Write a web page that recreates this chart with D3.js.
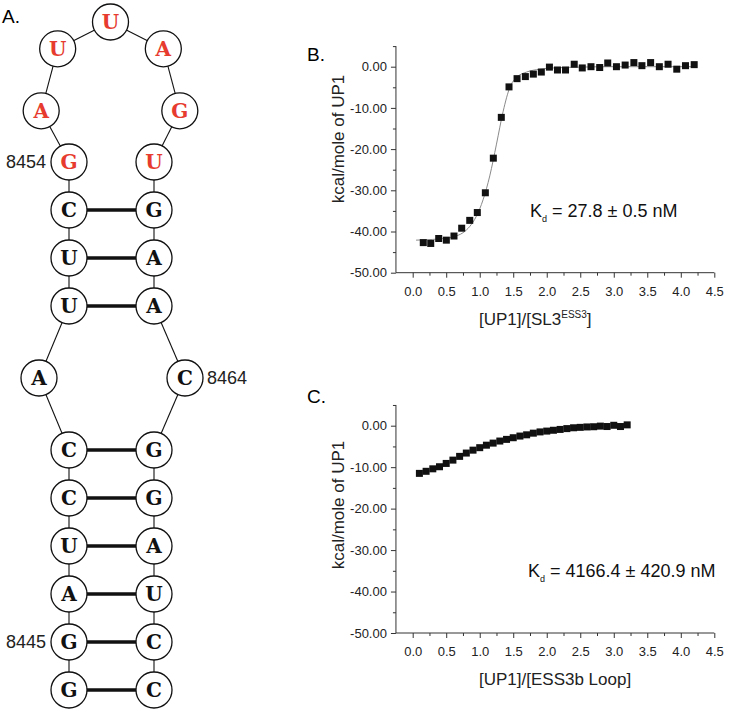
<!DOCTYPE html>
<html>
<head>
<meta charset="UTF-8">
<script src="https://d3js.org/d3.v7.min.js"></script>
<style>
  body { margin: 0; background: #fff; }
  text { font-family: "Liberation Sans", Arial, sans-serif; }
</style>
</head>
<body>
<svg width="730" height="709"></svg>
<script>
// ---- panel A: stem loop, numbered from 8444
var seqStart = 8444;
var sequence = ["G","G","A","U","C","C","A","U","U","C","G",
                "A","U","U","A","G","U",
                "G","A","A","C","G","G","A","U","C","C"];
var redFrom = 8454, redTo = 8460;
var pairs = [[8444,8470],[8445,8469],[8446,8468],[8447,8467],[8448,8466],
             [8449,8465],[8451,8463],[8452,8462],[8453,8461]];
var numbered = [8445, 8454, 8464];

// ---- panel B: [UP1]/[SL3 ESS3]
var bX = [0.158,0.269,0.388,0.502,0.616,0.731,0.851,0.964,1.084,1.203,1.322,1.437,1.557,1.681,1.800,1.919,
          2.04,2.16,2.28,2.41,2.53,2.66,2.79,2.91,3.04,3.17,3.30,3.42,3.55,3.68,3.81,3.94,4.07,4.20];
var bY = [-42.7,-42.9,-41.7,-42.1,-41.1,-39.2,-37.3,-35.4,-30.6,-22.2,-12.3,-4.9,-2.9,-2.4,-1.8,-1.3,
          -0.1,-0.8,-0.8,0.6,-0.3,0.0,-0.2,0.9,0.0,0.4,1.0,0.25,1.0,0.0,0.6,-0.6,0.25,0.5];
// fitted curve
var fitX = [0.05,0.2,0.4,0.6,0.75,0.85,0.95,1.05,1.15,1.25,1.35,1.45,1.55,1.7,1.9,2.1,2.5,3.0,3.5,4.2];
var fitY = [-42.1,-42.0,-41.8,-41.3,-40.3,-38.8,-36.3,-32.3,-26.5,-18.8,-10.8,-5.0,-2.6,-1.3,-0.6,-0.3,-0.1,0,0,0];

// ---- panel C: [UP1]/[ESS3b Loop]
var cX = [0.1,0.2,0.3,0.4,0.5,0.6,0.7,0.8,0.9,1.0,1.1,1.2,1.3,1.4,1.5,1.6,
          1.7,1.8,1.9,2.0,2.1,2.2,2.3,2.4,2.5,2.6,2.7,2.8,2.9,3.0,3.1,3.2];
var cY = [-11.5,-11.0,-10.4,-9.9,-9.1,-8.3,-7.4,-6.6,-5.9,-5.3,-4.7,-4.2,-3.7,-3.3,-2.9,-2.5,
          -2.2,-1.8,-1.5,-1.3,-1.1,-0.9,-0.7,-0.5,-0.4,-0.3,-0.25,-0.1,-0.2,0.1,-0.2,0.2];

var xMajor = [0,0.5,1,1.5,2,2.5,3,3.5,4,4.5];
var xMinor = [0.25,0.75,1.25,1.75,2.25,2.75,3.25,3.75,4.25];
var yMajor = [0,-10,-20,-30,-40,-50];
var yMinor = [5,-5,-15,-25,-35,-45];

var svg = d3.select("svg");
var red = "#e63b2e";

// ===================== panel A =====================
svg.append("text").attr("x", 2).attr("y", 23).attr("font-size", 19).text("A.");

var rowY = d3.scaleLinear().domain([0, 11]).range([690, 162]);
var colL = 69, colR = 154;

function pos(i) {
  if (i <= 5) return [colL, rowY(i)];
  if (i == 6) return [colL - 30, rowY(6.5)];
  if (i <= 9) return [colL, rowY(i + 1)];
  if (i == 10) return [colL, rowY(11)];
  if (i <= 15) {
    var a = (-98 + 49 * (i - 11)) * Math.PI / 180;
    return [110.5 + 70 * Math.sin(a), 100 - 78 * Math.cos(a)];
  }
  if (i == 16) return [colR, rowY(11)];
  if (i <= 19) return [colR, rowY(27 - i)];
  if (i == 20) return [colR + 31, rowY(6.5)];
  return [colR, rowY(26 - i)];
}

var nts = sequence.map(function(b, i) {
  var p = pos(i);
  return {base: b, num: seqStart + i, x: p[0], y: p[1]};
});

var ga = svg.append("g");
// backbone
ga.selectAll(".bb").data(d3.pairs(nts)).enter().append("line")
  .attr("x1", function(d){ return d[0].x; }).attr("y1", function(d){ return d[0].y; })
  .attr("x2", function(d){ return d[1].x; }).attr("y2", function(d){ return d[1].y; })
  .attr("stroke", "#111").attr("stroke-width", 1.1);
// base pairs
ga.selectAll(".bp").data(pairs).enter().append("line")
  .attr("x1", function(d){ return nts[d[0] - seqStart].x; })
  .attr("y1", function(d){ return nts[d[0] - seqStart].y; })
  .attr("x2", function(d){ return nts[d[1] - seqStart].x; })
  .attr("y2", function(d){ return nts[d[1] - seqStart].y; })
  .attr("stroke", "#111").attr("stroke-width", 3.6);

var node = ga.selectAll(".nt").data(nts).enter().append("g")
  .attr("transform", function(d){ return "translate(" + d.x + "," + d.y + ")"; });
node.append("circle").attr("r", 18).attr("fill", "#fff")
  .attr("stroke", "#111").attr("stroke-width", 1.3);
node.append("text")
  .attr("text-anchor", "middle").attr("dy", "0.36em")
  .style("font-family", "'DejaVu Serif', serif").style("font-weight", "bold").attr("font-size", 20)
  .attr("fill", function(d){ return d.num >= redFrom && d.num <= redTo ? red : "#111"; })
  .text(function(d){ return d.base; });

ga.selectAll(".num").data(numbered).enter().append("text")
  .attr("font-size", 18).attr("fill", "#222").attr("dy", "0.36em")
  .attr("text-anchor", function(n){ return nts[n - seqStart].x > 120 ? "start" : "end"; })
  .attr("x", function(n){ var d = nts[n - seqStart]; return d.x > 120 ? d.x + 22 : d.x - 23; })
  .attr("y", function(n){ return nts[n - seqStart].y; })
  .text(function(d){ return d; });

// ===================== panels B, C =====================
function panel(o) {
  var x = d3.scaleLinear().domain([0, 4.5]).range([412.7, 714.3]);
  var y = d3.scaleLinear().domain([0, -50]).range([o.zero, o.bottom]);
  var g = svg.append("g");

  svg.append("text").attr("x", 307).attr("y", o.letterY).attr("font-size", 19).text(o.letter);

  var xa = g.append("g").attr("transform", "translate(0," + o.bottom + ")");
  xa.append("line").attr("x1", x(-0.25)).attr("x2", x(4.5))
    .attr("stroke", "#333").attr("stroke-width", 1);
  xa.call(d3.axisBottom(x).tickValues(xMajor).tickSize(5).tickPadding(9)
      .tickFormat(function(d){ return d.toFixed(1); }));
  xa.call(function(s){ s.select(".domain").remove(); });
  var xm = g.append("g").attr("transform", "translate(0," + o.bottom + ")")
    .call(d3.axisBottom(x).tickValues(xMinor).tickSize(3).tickFormat(""));
  xm.select(".domain").remove();

  var ya = g.append("g").attr("transform", "translate(" + x(-0.25) + ",0)");
  ya.append("line").attr("y1", y(5)).attr("y2", y(-50))
    .attr("stroke", "#333").attr("stroke-width", 1);
  ya.call(d3.axisLeft(y).tickValues(yMajor).tickSize(5).tickPadding(4)
      .tickFormat(function(d){ return d.toFixed(2); }));
  ya.select(".domain").remove();
  var ym = g.append("g").attr("transform", "translate(" + x(-0.25) + ",0)")
    .call(d3.axisLeft(y).tickValues(yMinor).tickSize(3).tickFormat(""));
  ym.select(".domain").remove();

  g.selectAll(".tick line").attr("stroke", "#333");
  g.selectAll(".tick text").attr("font-size", 13).attr("fill", "#222")
    .style("font-family", "'Liberation Sans', Arial, sans-serif");

  // y label
  g.append("text").attr("transform", "translate(344," + o.yLabelY + ") rotate(-90)")
    .attr("text-anchor", "middle").attr("font-size", 17).attr("fill", "#222")
    .text("kcal/mole of UP1");

  // x label
  var xl = g.append("text").attr("x", 479).attr("y", o.bottom + 52)
    .attr("font-size", 17).attr("fill", "#222");
  xl.append("tspan").text(o.xLabel[0]);
  if (o.xLabel[1]) {
    xl.append("tspan").attr("font-size", 10).attr("dy", -7).text(o.xLabel[1]);
    xl.append("tspan").attr("dy", 7).text(o.xLabel[2]);
  }

  // fit
  if (o.fitX) {
    var line = d3.line().x(function(d){ return x(d[0]); }).y(function(d){ return y(d[1]); })
      .curve(d3.curveMonotoneX);
    g.append("path").datum(d3.zip(o.fitX, o.fitY)).attr("d", line)
      .attr("fill", "none").attr("stroke", "#8a8a8a").attr("stroke-width", 1);
  }

  // points
  var s = o.size;
  g.selectAll(".pt").data(d3.zip(o.xs, o.ys)).enter().append("rect")
    .attr("x", function(d){ return x(d[0]) - s / 2; })
    .attr("y", function(d){ return y(d[1]) - s / 2; })
    .attr("width", s).attr("height", s).attr("fill", "#111");

  // Kd
  var kt = g.append("text").attr("x", o.kdX).attr("y", o.kdY).attr("font-size", 18).attr("fill", "#111");
  kt.append("tspan").text("K");
  kt.append("tspan").attr("font-size", 9).attr("dy", 5).text("d");
  kt.append("tspan").attr("dy", -5).text(" = " + o.kd);
}

panel({letter: "B.", letterY: 61, zero: 66.7, bottom: 272.7, yLabelY: 139,
       xLabel: ["[UP1]/[SL3", "ESS3", "]"], xs: bX, ys: bY, fitX: fitX, fitY: fitY,
       size: 7, kdX: 530, kdY: 217, kd: "27.8 \u00b1 0.5 nM"});
panel({letter: "C.", letterY: 403, zero: 425.7, bottom: 633, yLabelY: 505,
       xLabel: ["[UP1]/[ESS3b Loop]"], xs: cX, ys: cY,
       size: 7, kdX: 528, kdY: 577, kd: "4166.4 \u00b1 420.9 nM"});
</script>
</body>
</html>
